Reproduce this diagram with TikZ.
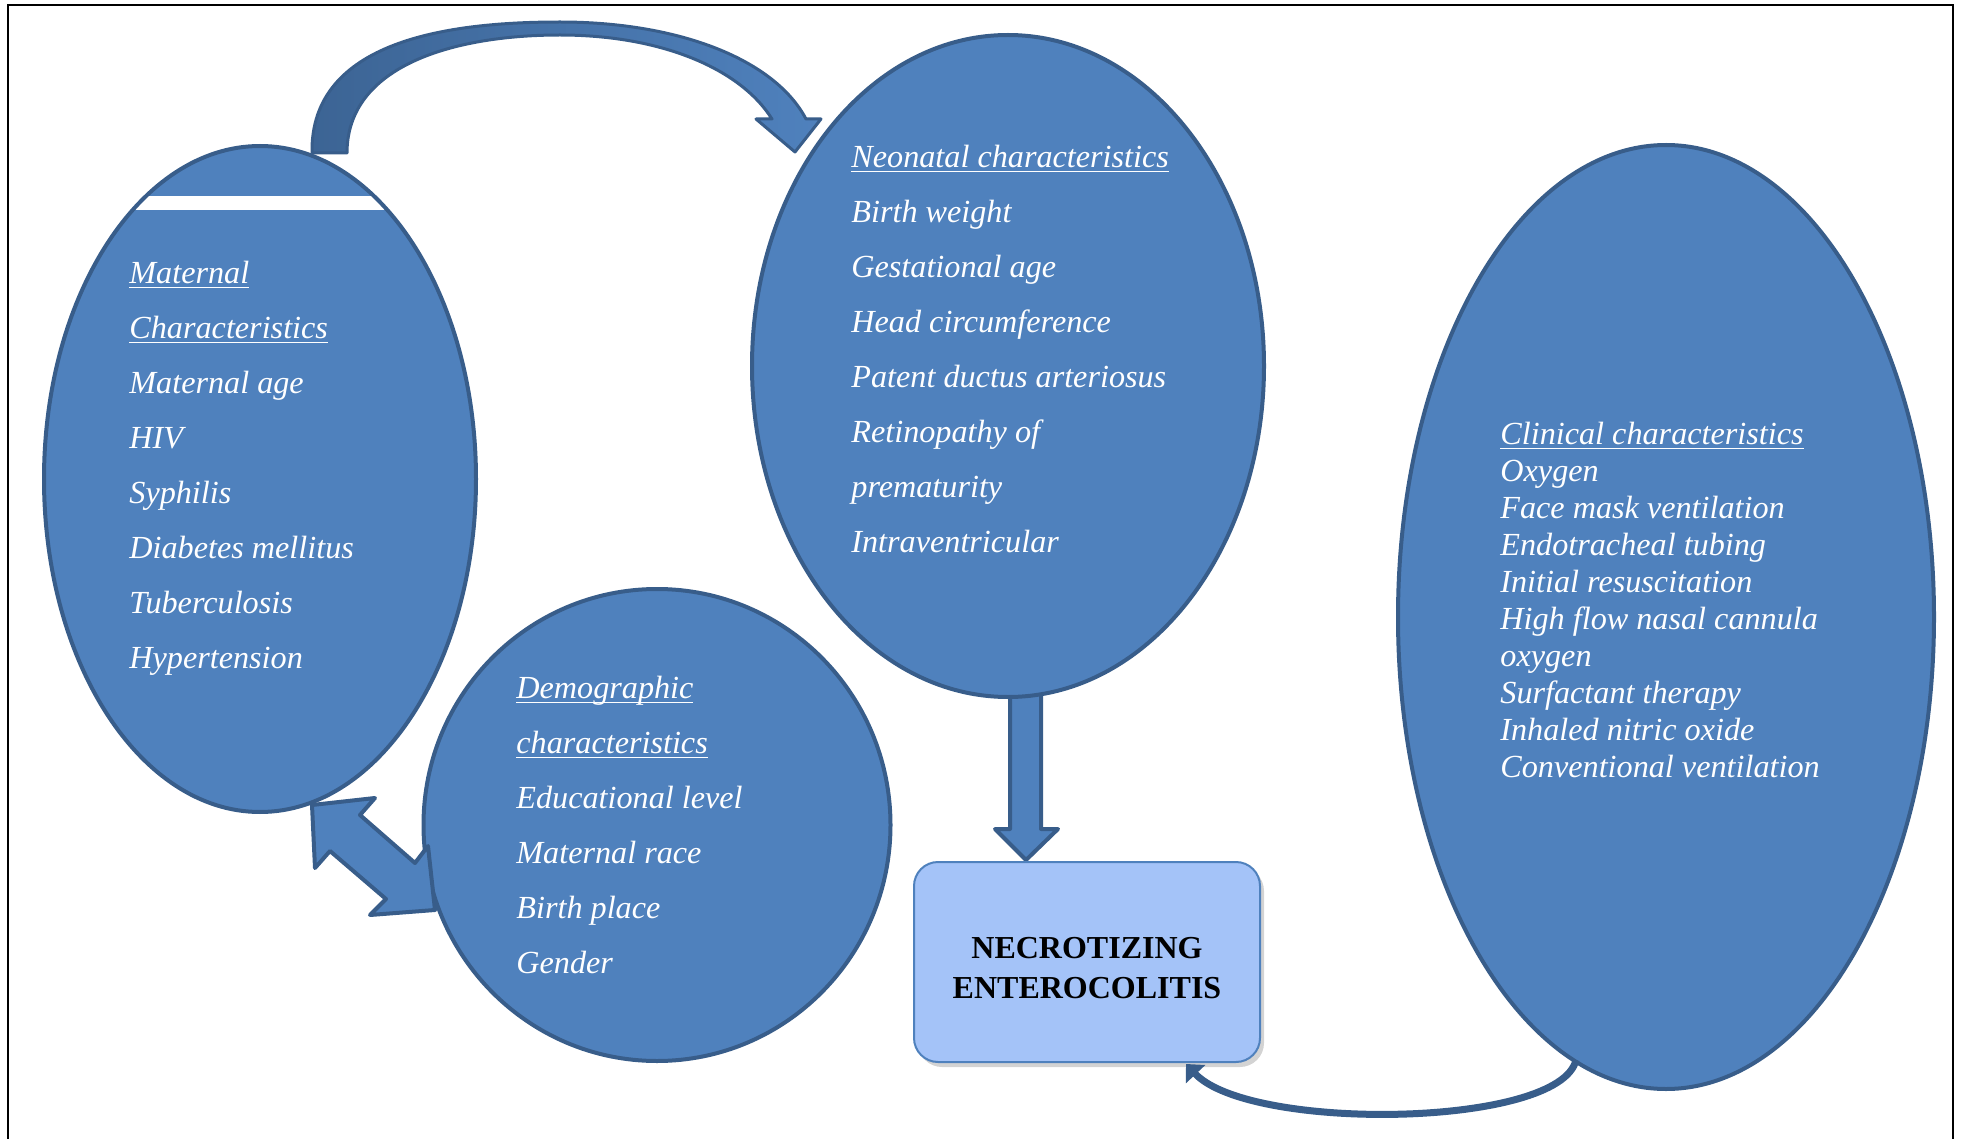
\documentclass[tikz,border=0pt]{standalone}
\usepackage{fontspec}
\setmainfont{Liberation Serif}
\usetikzlibrary{shapes.geometric, shadows, arrows.meta}
\definecolor{ellblue}{HTML}{4F81BD}
\definecolor{edgeblue}{HTML}{385D8A}
\definecolor{darkarrow}{HTML}{3C6494}
\definecolor{necblue}{HTML}{A4C3F8}
\newcommand{\hdr}[1]{\setbox0\hbox{#1}\rlap{\rule[-2.2pt]{\wd0}{0.7pt}}\box0}
\tikzstyle{oval}=[shape=ellipse, inner sep=0, fill=ellblue, draw=edgeblue, line width=2pt]
\tikzstyle{txt}=[anchor=north west, inner sep=0, align=left, text=white, font=\fontsize{16.1}{27.5}\selectfont\itshape]
\tikzstyle{blk}=[fill=ellblue, draw=edgeblue, line width=2pt, line join=round]
\tikzstyle{necbox}=[shape=rectangle, rounded corners=12pt, fill=necblue, draw=ellblue, line width=1pt, minimum width=173pt, minimum height=100pt, align=center, font=\fontsize{16}{20}\selectfont\bfseries, drop shadow={shadow xshift=2pt, shadow yshift=-2.5pt, opacity=.35}]

\begin{document}
\begin{tikzpicture}[x=.5pt, y=-.5pt]
\useasboundingbox (0,0) rectangle (1961,1139);
\draw[line width=1pt] (8,1139)--(8,5)--(1953,5)--(1953,1139);
\draw[blk] (1010,680)--(1041,680)--(1041,829)--(1058,829)--(1026,860)--(995,829)--(1010,829)--cycle;
\node at (260,479)[oval, minimum width=216pt, minimum height=333pt, path picture={\fill[white] (path picture bounding box.north west) ++(0,50) rectangle ++(432,14);}](mat){};
\node at (1008,366)[oval, minimum width=256pt, minimum height=331pt](neo){};
\node at (657,825)[oval, minimum width=233.5pt, minimum height=236pt](dem){};
\node at (1666,617)[oval, minimum width=268pt, minimum height=472pt](clin){};
\node at (1087,962)[necbox](nec){\rule{0pt}{17pt}NECROTIZING\\ENTEROCOLITIS};
\node at (129,261)[txt](mattxt){\hdr{Maternal}\\\hdr{Characteristics}\\Maternal age\\HIV\\Syphilis\\Diabetes mellitus\\Tuberculosis\\Hypertension};
\node at (851,145)[txt](neotxt){\hdr{Neonatal characteristics}\\Birth weight\\Gestational age\\Head circumference\\Patent ductus arteriosus\\Retinopathy of\\prematurity\\Intraventricular};
\node at (516,676)[txt](demtxt){\hdr{Demographic}\\\hdr{characteristics}\\Educational level\\Maternal race\\Birth place\\Gender};
\node at (1500,422)[txt, font=\fontsize{16.1}{18.5}\selectfont\itshape](clintxt){\hdr{Clinical characteristics}\\Oxygen\\Face mask ventilation\\Endotracheal tubing\\Initial resuscitation\\High flow nasal cannula\\oxygen\\Surfactant therapy\\Inhaled nitric oxide\\Conventional ventilation};
\draw[blk, left color=darkarrow, right color=ellblue, line width=1.5pt] (312,153) .. controls (310,40) and (450,22) .. (560,22) .. controls (680,22) and (775,60) .. (806,119) -- (821,119) -- (795,152) -- (756,119) -- (772,119) .. controls (740,68) and (660,35) .. (560,35) .. controls (455,35) and (347,65) .. (347,153) -- cycle;
\draw[blk] (312,805)--(375,798)--(360,815)--(415,863)--(428,846)--(435,910)--(370,915)--(386,899)--(330,851)--(315,868)--cycle;
\coordinate (clinfoot) at (1576,1060);
\coordinate (necfoot) at (1186,1064);
\draw[edgeblue, line width=3.5pt, -{Triangle[width=13pt,length=7pt]}] (clinfoot) .. controls (1560,1128) and (1250,1132) .. (necfoot);
\end{tikzpicture}
\end{document}
